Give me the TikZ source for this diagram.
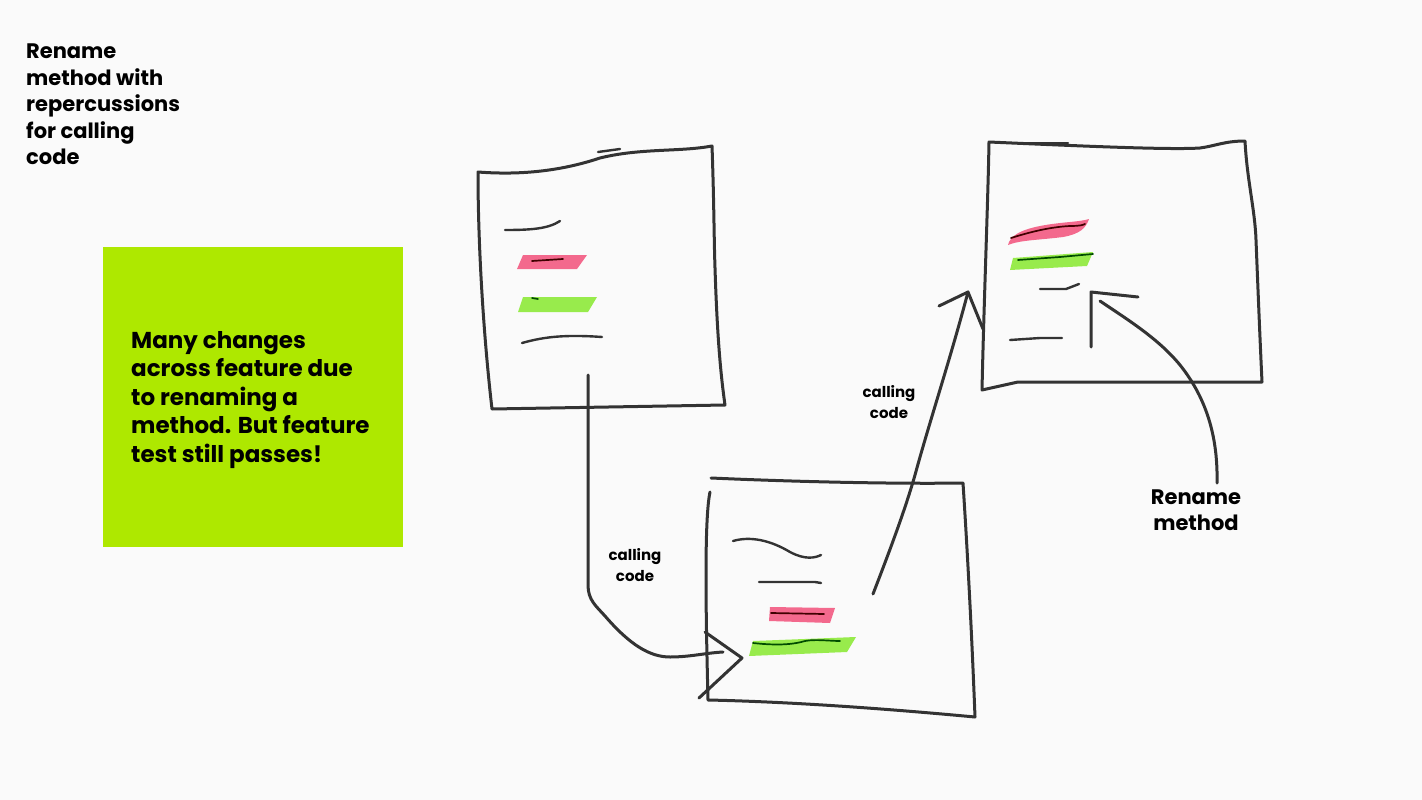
\documentclass[tikz,border=0pt]{standalone}
\usepackage{fontspec}
\setmainfont{Poppins}
\definecolor{bg}{HTML}{FAFAFA}
\definecolor{lime}{RGB}{174,232,0}
\definecolor{ink}{HTML}{333333}
\definecolor{hred}{HTML}{F2507A}
\definecolor{hgreen}{HTML}{8EEA3A}
\begin{document}
\begin{tikzpicture}[x=1pt,y=-1pt,
  sk/.style={draw=ink, line width=3pt, line cap=round, line join=round},
  thin/.style={draw=ink, line width=2.4pt, line cap=round, line join=round},
  hlr/.style={fill=hred, opacity=0.85},
  hlg/.style={fill=hgreen, opacity=0.9},
  dk/.style={draw=black!75!red, line width=1.7pt, line cap=round},
  dkg/.style={draw=black!70!green, line width=1.7pt, line cap=round},
  title/.style={anchor=north west, align=left, font=\fontsize{21}{26.5}\selectfont\bfseries, inner sep=0pt},
  small/.style={align=center, font=\fontsize{15}{21}\selectfont\bfseries, inner sep=0pt}]
\fill[bg] (0,0) rectangle (1422,800);
\useasboundingbox (0,0) rectangle (1422,800);

% title
\node[title] (ttl) at (26,44) {Rename\\method with\\repercussions\\for calling\\code};

% green box
\node[fill=lime, minimum width=300pt, minimum height=300pt, inner sep=0pt] (note) at (253,397) {};
\node[title, font=\fontsize{23}{28.5}\selectfont\bfseries] (notetxt) at (131,331) {Many changes\\across feature due\\to renaming a\\method. But feature\\test still passes!};

% ---------- document 1 ----------
\coordinate (d1tl) at (478,172);
\coordinate (d1tr) at (712,146);
\coordinate (d1br) at (725,405);
\coordinate (d1bl) at (492,409);
\draw[sk] (d1tl) .. controls (530,176) and (570,168) .. (600,158) .. controls (640,148) and (680,152) .. (d1tr)
  .. controls (714,200) and (714,240) .. (715,268) .. controls (717,330) and (720,370) .. (d1br)
  -- (d1bl) .. controls (484,340) and (478,250) .. (d1tl) -- cycle;
\draw[thin] (598,152) -- (620,149);
\draw[thin] (505,230) .. controls (530,230) and (548,229) .. (560,221);
\fill[hlr] (523,255) -- (587,255) -- (577,269) -- (517,269) -- cycle;
\draw[dk] (532,261) -- (563,259);
\fill[hlg] (523,297) -- (597,297) -- (588,312) -- (518,312) -- cycle;
\draw[dkg] (532,298) -- (538,299);
\draw[thin] (522,343) .. controls (540,338) and (560,334) .. (602,337);
\coordinate (d1out) at (588,375);

% ---------- document 2 ----------
\coordinate (d2tl) at (710,492);
\coordinate (d2tr) at (963,483);
\coordinate (d2br) at (975,717);
\coordinate (d2bl) at (708,700);
\draw[sk] (711,478) .. controls (800,482) and (900,484) .. (d2tr)
  .. controls (968,560) and (972,640) .. (d2br)
  .. controls (900,710) and (800,702) .. (d2bl)
  .. controls (706,620) and (704,520) .. (d2tl);
\draw[thin] (733,541) .. controls (750,536) and (770,540) .. (790,552) .. controls (805,560) and (815,558) .. (821,555);
\draw[thin] (759,582) -- (815,582) -- (821,583);
\fill[hlr] (770,607) -- (835,608) -- (830,623) -- (769,621) -- cycle;
\draw[dk] (771,613) -- (824,614);
\fill[hlg] (753,641) -- (856,637) -- (847,652) -- (749,656) -- cycle;
\draw[dkg] (753,643) .. controls (780,646) and (795,644) .. (805,641) .. controls (815,639) and (830,641) .. (840,641);
\coordinate (d2out) at (873,594);

% ---------- document 3 ----------
\coordinate (d3tl) at (989,142);
\coordinate (d3tr) at (1245,141);
\coordinate (d3br) at (1262,382);
\coordinate (d3bl) at (982,390);
\draw[sk] (d3tl) .. controls (1080,146) and (1170,150) .. (1200,148) .. controls (1215,146) and (1225,141) .. (d3tr)
  .. controls (1247,180) and (1255,210) .. (1256,240) .. controls (1258,290) and (1260,340) .. (d3br)
  -- (1018,382) -- (d3bl)
  .. controls (984,300) and (988,200) .. (d3tl) -- cycle;
\draw[thin] (1022,143) -- (1068,143);
\fill[hlr] (1008,245) .. controls (1010,236) and (1020,230) .. (1040,226) .. controls (1060,222) and (1080,222) .. (1089,219)
  .. controls (1086,228) and (1080,234) .. (1063,237) .. controls (1040,240) and (1020,240) .. (1008,245) -- cycle;
\draw[dk] (1011,238) .. controls (1030,232) and (1050,227) .. (1070,226) .. controls (1080,226) and (1083,225) .. (1085,224);
\fill[hlg] (1013,258) -- (1093,252) -- (1087,266) -- (1010,270) -- cycle;
\draw[dkg] (1018,260) -- (1060,257) -- (1093,254);
\draw[thin] (1040,289) -- (1066,289) -- (1079,284);
\draw[thin] (1010,340) -- (1040,338) -- (1062,338);
\coordinate (d3in) at (968,292);
\coordinate (mark) at (1091,292);

% ---------- connectors ----------
\coordinate (a1tip) at (742,658);
\coordinate (a1end) at (723,652);
\draw[sk] (d1out) -- (588,585) .. controls (588,600) and (596,606) .. (605,616)
  .. controls (630,645) and (650,657) .. (670,657) .. controls (690,657) and (705,653) .. (a1end);
\draw[sk] (705,632) -- (a1tip) -- (699,698);

\draw[sk] (d2out) .. controls (890,550) and (905,510) .. (915,475) .. controls (930,420) and (950,360) .. (d3in);
\draw[sk] (939,306) -- (d3in) -- (983,329);

% rename marker
\draw[sk] (1091,347) -- (mark) -- (1138,297);
\coordinate (rstart) at (1217,483);
\draw[sk] (rstart) .. controls (1218,440) and (1208,400) .. (1180,365) .. controls (1158,338) and (1125,318) .. (1100,301);

% labels
\node[small] (lbl1) at (635,565) {calling\\code};
\node[small] (lbl2) at (889,402) {calling\\code};
\node[title, anchor=center, align=center] (lbl3) at (1196,510) {Rename\\method};
\end{tikzpicture}
\end{document}
